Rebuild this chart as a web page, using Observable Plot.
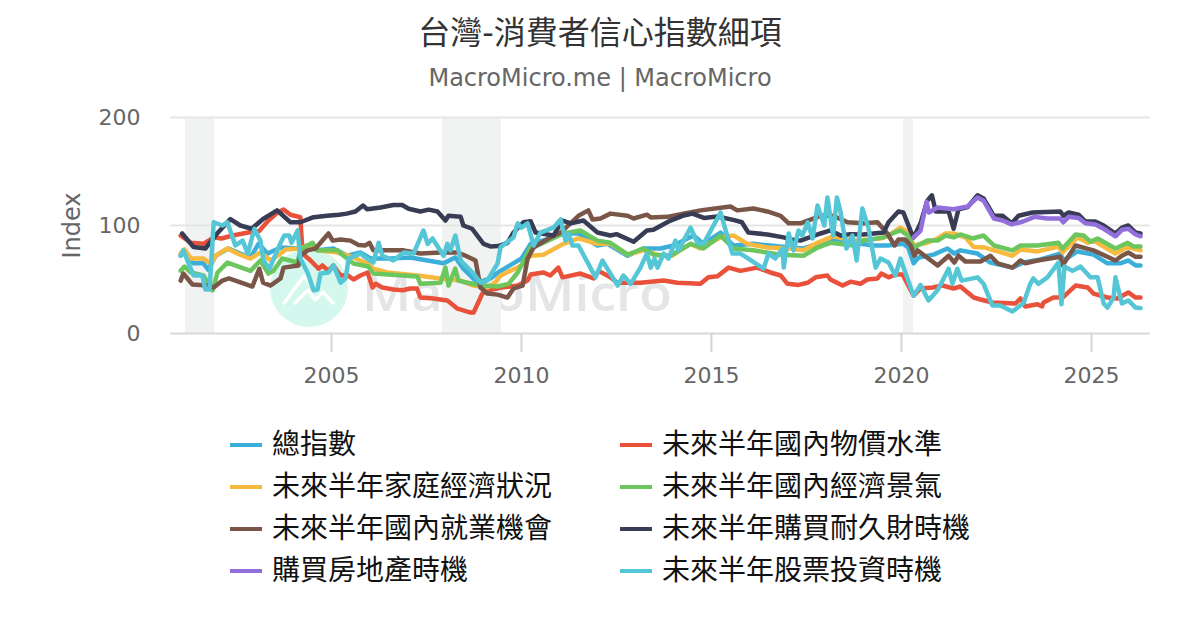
<!DOCTYPE html>
<html lang="zh-Hant"><head><meta charset="utf-8">
<script src="https://cdn.jsdelivr.net/npm/d3@7"></script>
<script src="https://cdn.jsdelivr.net/npm/@observablehq/plot@0.6"></script>
<style>
html,body{margin:0;padding:0;background:#fff;width:1200px;height:630px;overflow:hidden}
body{position:relative;font-family:"DejaVu Sans","Noto Sans CJK TC",sans-serif}
#head{height:100px;text-align:center;position:relative;z-index:2}
#title{font-size:32px;color:#333;line-height:40px;padding-top:13px}
#sub{font-size:24px;color:#666;line-height:30px;margin-top:10px}
#wm{position:absolute;left:0;top:0;z-index:0}
#chart{position:relative;z-index:1;height:285px}
#chart svg{display:block;background:transparent}
#legend{position:relative;z-index:2;margin-top:39px;margin-left:230px;display:grid;grid-template-columns:390px 390px;grid-auto-rows:42px;font-size:28px;color:#111;line-height:42px}
#legend div{display:flex;align-items:center;white-space:nowrap}
#legend i{display:block;width:32px;height:4px;margin-right:10px}
</style></head><body>
<svg id="wm" width="1200" height="630" aria-hidden="true">
<circle cx="309" cy="288" r="39" fill="#d4f8ee"/>
<path d="M284,303 L304,276 L311,284 M295,303 L308,290 L315,300 L323,292 L333,303" fill="none" stroke="#fff" stroke-width="3.5" stroke-linecap="round" stroke-linejoin="round"/>
<text x="362" y="311" font-size="48" font-weight="600" fill="#e3e5e6" font-family="'Open Sans'" textLength="310" lengthAdjust="spacingAndGlyphs">MacroMicro</text>
</svg>
<div id="head"><div id="title">台灣-消費者信心指數細項</div><div id="sub">MacroMicro.me | MacroMicro</div></div>
<div id="chart"></div>
<div id="legend"></div>
<script>
const seriesNames = ["總指數","未來半年國內物價水準","未來半年家庭經濟狀況","未來半年國內經濟景氣","未來半年國內就業機會","未來半年購買耐久財時機","購買房地產時機","未來半年股票投資時機"];
const seriesColors = ["#3CAEDA","#E9513B","#F8B93F","#6CC65E","#7A5648","#383D55","#936FDC","#55C6D6"];
const legendOrder = [0,1,2,3,4,5,6,7];

const total = [[2001.03,72],[2001.13,76],[2001.37,65],[2001.63,65],[2001.76,59],[2001.95,72],[2002.29,78.7],[2002.6,74],[2002.87,70.4],[2003.08,83],[2003.32,74],[2003.66,79.6],[2004.1,78.7],[2004.37,81.5],[2004.63,77],[2005.05,78.7],[2005.42,72],[2005.76,75],[2006.03,69.4],[2006.55,69.4],[2007.08,70.4],[2007.53,67.6],[2007.95,65],[2008.26,70.4],[2008.47,60],[2008.84,47],[2009.18,51],[2009.45,58],[2010,69.4],[2010.24,83],[2010.76,88],[2011.1,92.6],[2011.5,92.6],[2012,81.5],[2012.26,83],[2012.79,72],[2013.2,78.7],[2013.66,78.7],[2014,81.5],[2014.53,90.7],[2014.79,83],[2015.24,93.5],[2015.58,81.5],[2016.1,83],[2017.08,79.6],[2017.42,78.7],[2017.79,83],[2018.2,88],[2018.74,84],[2019.26,81.5],[2019.63,81.5],[2020.05,83],[2020.18,79.6],[2020.32,65],[2020.45,70.4],[2020.84,73],[2021.21,78.7],[2021.39,74],[2021.55,77],[2022,74],[2022.34,65.7],[2022.92,61],[2023.21,65.7],[2023.66,68.5],[2024.18,74],[2024.26,67.6],[2024.63,76],[2025.05,73],[2025.42,65],[2025.76,65],[2025.97,67.6],[2026.16,63],[2026.29,63]];

const prices = [[2001.03,90.7],[2001.3,84],[2001.63,83],[2001.9,89],[2002.1,88],[2002.4,90.7],[2002.95,94.4],[2003.1,95],[2003.34,104.6],[2003.58,112],[2003.74,114.8],[2003.92,110],[2004.18,107.7],[2004.24,74],[2004.45,67.6],[2004.66,60],[2004.76,63],[2004.92,58],[2005.05,63],[2005.24,53.7],[2005.42,54],[2005.58,50],[2005.76,53.7],[2005.95,56.5],[2006.08,42.6],[2006.16,46],[2006.34,42.6],[2006.63,40.7],[2006.87,40],[2007.08,41.7],[2007.25,41.7],[2007.34,33.3],[2007.68,32.4],[2008.05,30.6],[2008.32,23],[2008.66,19.4],[2008.74,19.4],[2008.97,37],[2009.1,40],[2009.37,41.7],[2009.45,42.6],[2009.9,44.4],[2010.16,49],[2010.24,54.6],[2010.58,56.5],[2010.76,53.7],[2010.97,61],[2011.08,52],[2011.55,55.5],[2011.9,51],[2012.03,58],[2012.34,52],[2012.53,47],[2013.13,47],[2013.74,49],[2014.1,47],[2014.71,46],[2014.92,52],[2015.16,53],[2015.45,61],[2015.76,58],[2016.2,61],[2016.55,56.5],[2016.82,53.7],[2017,46],[2017.29,45],[2017.53,47],[2017.74,52],[2018.05,53.7],[2018.13,50],[2018.45,44.4],[2018.66,48],[2018.92,46],[2019.1,50],[2019.37,51],[2019.47,55.5],[2019.66,52],[2019.84,54.6],[2020.03,54.6],[2020.32,35],[2020.5,41.7],[2020.82,42.6],[2021.08,44.4],[2021.37,41.7],[2021.55,43.5],[2021.9,33.3],[2022.08,31.5],[2022.39,28.7],[2023,27.8],[2023.13,32.4],[2023.26,25],[2023.58,27],[2023.7,25],[2023.74,28.7],[2024,33.3],[2024.24,33.3],[2024.58,44.4],[2024.9,42.6],[2025.05,37],[2025.42,33.3],[2025.68,32.4],[2025.97,38],[2026.16,33.3],[2026.29,33.3]];

const household = [[2001.03,74],[2001.13,78],[2001.3,69.4],[2001.63,69.4],[2001.82,64.8],[2001.95,72],[2002.26,78.7],[2002.53,74],[2002.87,69.4],[2003.13,75],[2003.4,67.6],[2003.66,74],[2003.79,77.8],[2004.18,78.7],[2004.37,81.5],[2004.63,77],[2005.16,75],[2005.58,70.4],[2005.95,64.8],[2006.1,60],[2006.47,56.5],[2007.26,53.7],[2007.87,51],[2008.4,49],[2008.74,44.4],[2009.1,42.6],[2009.3,47],[2009.45,53.7],[2010,63],[2010.24,72],[2010.58,73],[2011.1,83],[2011.5,88],[2012,83],[2012.34,83],[2012.8,73],[2013.2,77],[2013.66,72],[2013.95,72],[2014.45,83],[2014.71,78.7],[2015.24,89],[2015.58,90.7],[2015.95,83],[2016.47,79.6],[2017.08,78.7],[2017.42,77],[2017.79,84],[2018.2,90],[2018.74,86],[2019.45,88],[2019.66,90.7],[2019.97,98],[2020.18,93.5],[2020.32,81.5],[2020.68,84],[2020.95,88],[2021.16,92.6],[2021.37,92.6],[2021.68,89],[2021.9,80],[2022.2,79.6],[2022.53,76],[2022.92,72],[2023.13,77.8],[2023.58,76],[2024.13,80.6],[2024.24,75],[2024.63,89],[2024.9,84],[2025.05,86],[2025.63,74],[2025.95,80],[2026.29,77]];

const economy = [[2001.03,58],[2001.13,62],[2001.3,56.5],[2001.63,53.7],[2001.87,40],[2002,56.5],[2002.26,65.7],[2002.87,58],[2003.13,67.6],[2003.34,55.5],[2003.47,58],[2003.7,69.4],[2004.1,65.7],[2004.2,78],[2004.5,84],[2004.63,77],[2005.16,77],[2005.24,74],[2005.58,64.8],[2005.97,62],[2006.1,55.5],[2007.26,52.8],[2007.34,46],[2007.87,47],[2008,61],[2008.08,44.4],[2008.26,60],[2008.34,49],[2008.58,47],[2008.92,44.4],[2009.37,43.5],[2009.66,46],[2009.9,56.5],[2010.24,79.6],[2010.58,84],[2011.1,92.6],[2011.55,95.4],[2012,86],[2012.34,84],[2012.8,73],[2013.2,78.7],[2013.47,73],[2013.92,72],[2014.45,83],[2014.79,78.7],[2015.24,90.7],[2015.58,78.7],[2016.1,77],[2016.82,73],[2017.42,72],[2017.79,79.6],[2018.13,84],[2018.74,81.5],[2019,86],[2019.53,89],[2019.76,92.6],[2019.97,95.4],[2020.18,90.7],[2020.32,79.6],[2020.68,86],[2020.95,86],[2021.16,90.7],[2021.37,89],[2021.55,91.7],[2021.87,88],[2022.16,90.7],[2022.43,81.5],[2022.92,77],[2023.13,81.5],[2023.58,81.5],[2024.13,84],[2024.24,78.7],[2024.58,91.7],[2024.79,90.7],[2024.97,85],[2025.16,88],[2025.63,78.7],[2025.95,84],[2026.1,80.6],[2026.29,80.6]];

const jobs = [[2001.03,49],[2001.1,55.5],[2001.34,45.4],[2001.74,44.4],[2001.9,42.6],[2002.13,49],[2002.3,51],[2002.55,48],[2002.92,43.5],[2003.1,60],[2003.2,47],[2003.4,44.4],[2003.66,51],[2003.74,61],[2004.13,63],[2004.18,72],[2004.37,77],[2004.58,78.7],[2004.92,92.6],[2005.03,86],[2005.24,87],[2005.5,86],[2005.71,82],[2005.89,81.5],[2006,84],[2006.1,77],[2006.9,77],[2007.34,74],[2007.87,75],[2008.32,75],[2008.53,72],[2008.79,67.6],[2008.92,42.6],[2009.1,37],[2009.37,36],[2009.63,33.3],[2009.79,41.7],[2010.03,44.4],[2010.16,69.4],[2010.32,79.6],[2010.76,89],[2011.03,93.5],[2011.5,109],[2011.76,114],[2011.87,105.6],[2012.08,106.5],[2012.34,111],[2012.79,109],[2012.95,106.5],[2013.3,110],[2013.4,107.5],[2013.84,108],[2014.26,111],[2014.71,114],[2015.5,117.6],[2015.68,114],[2016.1,115.7],[2016.47,113],[2016.82,109],[2017.03,102],[2017.34,102],[2017.87,109],[2018.2,109],[2018.58,103],[2019,102],[2019.37,103],[2019.63,92.6],[2019.82,81.5],[2019.92,87],[2020.1,87],[2020.24,81.5],[2020.34,72],[2020.42,77],[2020.95,63],[2021.24,72],[2021.39,65.7],[2021.5,72],[2021.68,66.7],[2022.08,66.7],[2022.34,72],[2022.53,65],[2022.92,61],[2023.13,67.6],[2023.26,65],[2023.58,67.6],[2024.18,71],[2024.24,63],[2024.58,81.5],[2025.05,77],[2025.63,67.6],[2025.8,72],[2025.97,75],[2026.16,71],[2026.29,71]];

const durables = [[2001.07,92.6],[2001.37,80],[2001.68,78.7],[2001.99,92.6],[2002.34,106],[2002.6,100],[2002.9,97],[2003.2,106],[2003.57,114],[2003.92,103],[2004.18,103],[2004.53,107.7],[2004.88,109],[2005.2,110],[2005.4,111],[2005.63,113],[2005.83,118.5],[2005.94,115],[2006.29,116.6],[2006.63,119],[2006.86,119],[2007.03,115.5],[2007.34,113],[2007.56,114.7],[2007.79,113],[2008,104.6],[2008.08,109],[2008.4,108],[2008.47,100],[2008.7,97],[2009,83],[2009.18,80.6],[2009.4,81],[2009.63,84],[2009.79,93.5],[2010.05,103],[2010.24,104],[2010.37,93.5],[2010.84,90.7],[2011.08,104.6],[2011.3,102],[2011.63,104.6],[2012,93.5],[2012.34,90.7],[2012.5,92],[2012.95,85],[2013.3,95.4],[2013.47,96],[2013.92,104.6],[2014.24,109],[2014.5,111],[2014.8,107],[2015.16,108.3],[2015.6,105],[2015.8,103],[2015.97,93.5],[2016.47,91.7],[2016.9,89],[2017.08,87],[2017.34,86],[2017.87,92.6],[2018.13,95.4],[2018.4,90.7],[2018.65,92],[2019,91.7],[2019.53,93.5],[2019.66,103],[2019.92,113],[2020.05,112],[2020.24,95],[2020.32,89],[2020.5,102],[2020.68,123],[2020.8,128],[2020.9,113],[2021.24,113],[2021.37,97],[2021.5,115],[2021.74,117],[2022,128],[2022.16,125],[2022.43,109],[2022.66,109],[2022.9,102],[2023.08,109],[2023.45,112],[2024.18,113],[2024.26,109],[2024.4,112],[2024.66,110],[2024.84,103.7],[2025.1,103.7],[2025.32,100],[2025.63,92.6],[2025.8,98],[2025.97,100],[2026.16,93.5],[2026.29,92.6]];

const housing = [[2020.32,89],[2020.5,95],[2020.66,122],[2020.72,112],[2020.95,116.7],[2021.37,115],[2021.74,117.6],[2022,126],[2022.16,123],[2022.43,106.5],[2022.66,104.6],[2022.9,101],[2023.2,103.7],[2023.5,108],[2023.84,106.5],[2024.18,106.5],[2024.26,103],[2024.4,108],[2024.66,107],[2024.84,102],[2025.1,101],[2025.32,97],[2025.63,90],[2025.8,96],[2025.97,97],[2026.16,91.7],[2026.29,90]];

const stocks = [[2001.03,72],[2001.1,77],[2001.24,65],[2001.37,53.7],[2001.6,53.7],[2001.68,40.7],[2001.79,40.7],[2001.9,103],[2002.13,100],[2002.26,103],[2002.47,81.5],[2002.66,86],[2002.8,74],[2002.97,97],[2003.13,86],[2003.21,67.6],[2003.37,60],[2003.66,84],[2003.76,90.7],[2003.89,90.7],[2003.95,84],[2004.11,95.4],[2004.18,69.4],[2004.37,56.5],[2004.53,40],[2004.63,40.7],[2004.71,55.5],[2004.92,56.5],[2005.05,63],[2005.24,47],[2005.37,51],[2005.45,69.4],[2005.76,74],[2005.89,70.4],[2006.1,65.7],[2006.24,84],[2006.34,72],[2006.63,67.6],[2006.9,75],[2007.16,74],[2007.42,95.4],[2007.53,83],[2007.66,88],[2007.95,72],[2008.05,83],[2008.13,77],[2008.26,90.7],[2008.4,67.6],[2008.71,56.5],[2008.92,47],[2009.1,49],[2009.37,65],[2009.45,80],[2009.79,89],[2009.9,102],[2010,98],[2010.16,102],[2010.32,81.5],[2010.5,93.5],[2010.84,98],[2011.03,105.6],[2011.16,86],[2011.24,92.6],[2011.34,81.5],[2011.5,81.5],[2011.95,52],[2012.13,67.6],[2012.53,44.4],[2012.68,53.7],[2012.87,46],[2013.13,61],[2013.3,74],[2013.4,61],[2013.5,69.4],[2013.58,61],[2013.74,74],[2013.87,69.4],[2014.05,86],[2014.13,77],[2014.45,98],[2014.63,84],[2014.79,83],[2015.24,112],[2015.55,74],[2015.76,74],[2015.97,69.4],[2016.37,60],[2016.5,74],[2016.68,69.4],[2016.87,78.7],[2016.9,61],[2017.03,92.6],[2017.16,77],[2017.29,95.4],[2017.39,90.7],[2017.53,103],[2017.66,88],[2017.79,118.5],[2017.97,100],[2018.05,126],[2018.2,90.7],[2018.3,126],[2018.4,112],[2018.55,78.7],[2018.71,90.7],[2018.82,67.6],[2018.97,115.7],[2019.13,98],[2019.32,61],[2019.45,69.4],[2019.66,65.7],[2019.84,53.7],[2019.97,69.4],[2020.32,35],[2020.5,45],[2020.71,30.6],[2020.95,40],[2021.24,60],[2021.34,46],[2021.47,60],[2021.58,49],[2022,52],[2022.16,46],[2022.39,26],[2022.6,26],[2022.92,20.4],[2023.21,28],[2023.39,46],[2023.47,51],[2023.6,46],[2023.84,52],[2024.13,65.7],[2024.21,27],[2024.29,62],[2024.5,58],[2024.71,62],[2024.97,52],[2025.16,52],[2025.32,27.8],[2025.42,24],[2025.58,33.3],[2025.63,52],[2025.8,27.8],[2025.97,30.6],[2026.16,24],[2026.29,23.5]];

const recessionStarts = [2001.16,2007.92,2020.05];
const recessionEnds = [2001.93,2009.47,2020.32];
const xTickYears = [2005,2010,2015,2020,2025];
const yTicks = [0,100,200];
const xDomainYears = [2000.763,2026.553];
const yDomain = [0,200];

const toDate = y => { const w = Math.floor(y), a = Date.UTC(w,0,1), b = Date.UTC(w+1,0,1); return new Date(a + (y-w)*(b-a)); };
const allSeries = [total,prices,household,economy,jobs,durables,housing,stocks];
const rows = allSeries.flatMap((pts,i) => pts.map(([t,v]) => ({date:toDate(t), value:v, series:seriesNames[i]})));
const bands = recessionStarts.map((s,i) => ({start:toDate(s), end:toDate(recessionEnds[i])}));

const chart = Plot.plot({
  width:1200, height:285, marginTop:17, marginBottom:52, marginLeft:170, marginRight:50,
  style:{background:"transparent", fontFamily:"'DejaVu Sans',sans-serif", overflow:"visible"},
  x:{type:"utc", domain:xDomainYears.map(toDate)},
  y:{domain:yDomain},
  color:{domain:seriesNames, range:seriesColors},
  marks:[
    Plot.rect(bands,{x1:"start",x2:"end",fill:"#f1f3f3"}),
    Plot.ruleY([100,200],{stroke:"#e6e6e6",strokeWidth:2}),
    Plot.ruleY([0],{stroke:"#d8d8d8",strokeWidth:2}),
    Plot.axisX({ticks:xTickYears.map(toDate),tickFormat:d3.utcFormat("%Y"),tickSize:19,tickPadding:15,fontSize:22,color:"#666",stroke:"#d4d4d4",strokeWidth:2,label:null}),
    Plot.axisY({ticks:yTicks,tickSize:0,tickPadding:30,fontSize:22,color:"#666",label:null}),
    Plot.axisY({ticks:[],fontSize:24,color:"#666",label:"Index",labelAnchor:"center",labelArrow:"none",labelOffset:108}),
    Plot.line(rows,{x:"date",y:"value",z:"series",stroke:"series",strokeWidth:4.5,strokeLinejoin:"round",strokeLinecap:"round"})
  ]
});
document.getElementById("chart").append(chart);

const legend = document.getElementById("legend");
legendOrder.forEach(i => {
  const row = document.createElement("div");
  const swatch = document.createElement("i");
  swatch.style.background = seriesColors[i];
  row.append(swatch, document.createTextNode(seriesNames[i]));
  legend.append(row);
});
</script>
</body></html>
